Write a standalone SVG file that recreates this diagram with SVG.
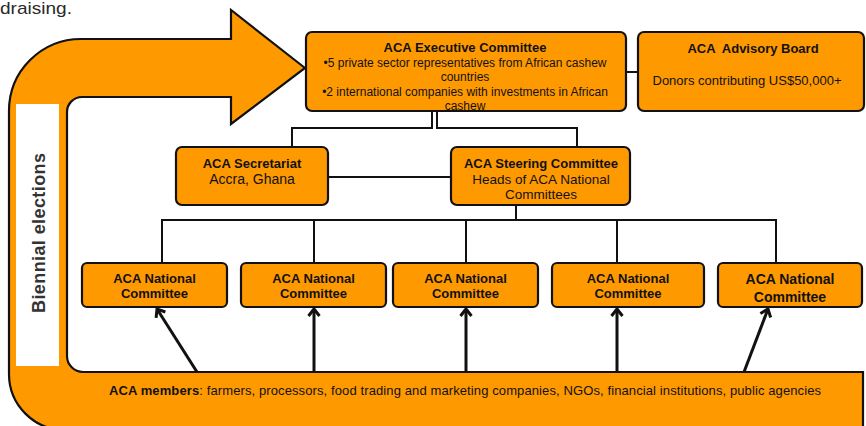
<svg xmlns="http://www.w3.org/2000/svg" width="866" height="426" viewBox="0 0 866 426">
<defs>
<style>
.box{fill:#FF9900;stroke:#111;stroke-width:2.2}
.t{font-family:"Liberation Sans",Arial,sans-serif;fill:#111;text-anchor:middle}
.b{font-weight:bold}
.con{fill:none;stroke:#111;stroke-width:2}
.arr{fill:none;stroke:#111;stroke-width:3;marker-end:url(#ah)}
</style>
<marker id="ah" markerUnits="userSpaceOnUse" markerWidth="16" markerHeight="16" viewBox="-10 -8 16 16" refX="0" refY="0" orient="auto">
<path d="M-7,-5.5 L0,0 L-7,5.5" fill="none" stroke="#111" stroke-width="3"/>
</marker>
</defs>
<rect width="866" height="426" fill="#fff"/>
<text x="0" y="14" font-family="'Liberation Sans',Arial,sans-serif" font-size="17" fill="#2a2a2a" textLength="72" lengthAdjust="spacingAndGlyphs">draising.</text>

<g id="election-arrow">
<path d="M305,68 L231,10 L231,39 L81,39 A72,72 0 0 0 9,111 L9,374 A56,56 0 0 0 65,430 L863,430 L863,372 L83,372 A16,16 0 0 1 67,356 L67,112 A15,15 0 0 1 82,97 L231,97 L231,124 Z" fill="#FF9900" stroke="#111" stroke-width="2.2"/>
<rect x="16" y="104" width="43" height="262" fill="#fff"/>
<text class="t b" transform="translate(45,233) rotate(-90)" font-size="18" style="fill:#333" textLength="160">Biennial elections</text>
</g>

<g id="members">
<text x="109" y="395" font-family="'Liberation Sans',Arial,sans-serif" font-size="13" fill="#111" textLength="712"><tspan font-weight="bold">ACA members</tspan>: farmers, processors, food trading and marketing companies, NGOs, financial institutions, public agencies</text>
</g>

<g id="connectors">
<polyline class="con" points="432,111 432,128 292,128 292,147"/>
<polyline class="con" points="437,111 437,128 577,128 577,147"/>
<line class="con" x1="626" y1="72" x2="638" y2="72"/>
<line class="con" x1="328" y1="177" x2="451" y2="177"/>
<polyline class="con" points="516,205 516,220"/>
<line class="con" x1="161" y1="220" x2="777" y2="220"/>
<line class="con" x1="162" y1="220" x2="162" y2="263"/>
<line class="con" x1="314" y1="220" x2="314" y2="263"/>
<line class="con" x1="466" y1="220" x2="466" y2="263"/>
<line class="con" x1="617" y1="220" x2="617" y2="263"/>
<line class="con" x1="776" y1="220" x2="776" y2="263"/>
<line class="arr" x1="197" y1="372" x2="157" y2="309"/>
<line class="arr" x1="314" y1="372" x2="314" y2="309"/>
<line class="arr" x1="466" y1="372" x2="466" y2="309"/>
<line class="arr" x1="617" y1="372" x2="617" y2="309"/>
<line class="arr" x1="744" y1="372" x2="768" y2="309"/>
</g>

<g id="executive">
<rect class="box" x="306" y="32" width="320" height="79" rx="6"/>
<text class="t b" x="465" y="52" font-size="13">ACA Executive Committee</text>
<text class="t" x="465" y="67" font-size="12">•5 private sector representatives from African cashew</text>
<text class="t" x="465" y="81" font-size="12">countries</text>
<text class="t" x="465" y="96" font-size="12">•2 international companies with investments in African</text>
<text class="t" x="465" y="110" font-size="12">cashew</text>
</g>

<g id="advisory">
<rect class="box" x="638" y="32" width="226" height="79" rx="6"/>
<text class="t b" x="753" y="53" font-size="13" style="white-space:pre">ACA  Advisory Board</text>
<text class="t" x="747" y="85" font-size="13">Donors contributing US$50,000+</text>
</g>

<g id="secretariat">
<rect class="box" x="176" y="147" width="152" height="58" rx="6"/>
<text class="t b" x="252" y="168" font-size="13">ACA Secretariat</text>
<text class="t" x="252" y="184" font-size="14">Accra, Ghana</text>
</g>

<g id="steering">
<rect class="box" x="451" y="147" width="179" height="58" rx="6"/>
<text class="t b" x="541" y="168" font-size="13">ACA Steering Committee</text>
<text class="t" x="541" y="184" font-size="13.5">Heads of ACA National</text>
<text class="t" x="541" y="199" font-size="13.5">Committees</text>
</g>

<g id="national-1">
<rect class="box" x="82" y="263" width="145" height="44" rx="5"/>
<text class="t b" x="154.5" y="283" font-size="13">ACA National</text>
<text class="t b" x="154.5" y="298" font-size="13">Committee</text>
</g>
<g id="national-2">
<rect class="box" x="241" y="263" width="145" height="44" rx="5"/>
<text class="t b" x="313.5" y="283" font-size="13">ACA National</text>
<text class="t b" x="313.5" y="298" font-size="13">Committee</text>
</g>
<g id="national-3">
<rect class="box" x="393" y="263" width="145" height="44" rx="5"/>
<text class="t b" x="465.5" y="283" font-size="13">ACA National</text>
<text class="t b" x="465.5" y="298" font-size="13">Committee</text>
</g>
<g id="national-4">
<rect class="box" x="552" y="263" width="152" height="44" rx="5"/>
<text class="t b" x="628" y="283" font-size="13">ACA National</text>
<text class="t b" x="628" y="298" font-size="13">Committee</text>
</g>
<g id="national-5">
<rect class="box" x="718" y="263" width="144" height="44" rx="5"/>
<text class="t b" x="790" y="284" font-size="14">ACA National</text>
<text class="t b" x="790" y="302" font-size="14">Committee</text>
</g>
</svg>
